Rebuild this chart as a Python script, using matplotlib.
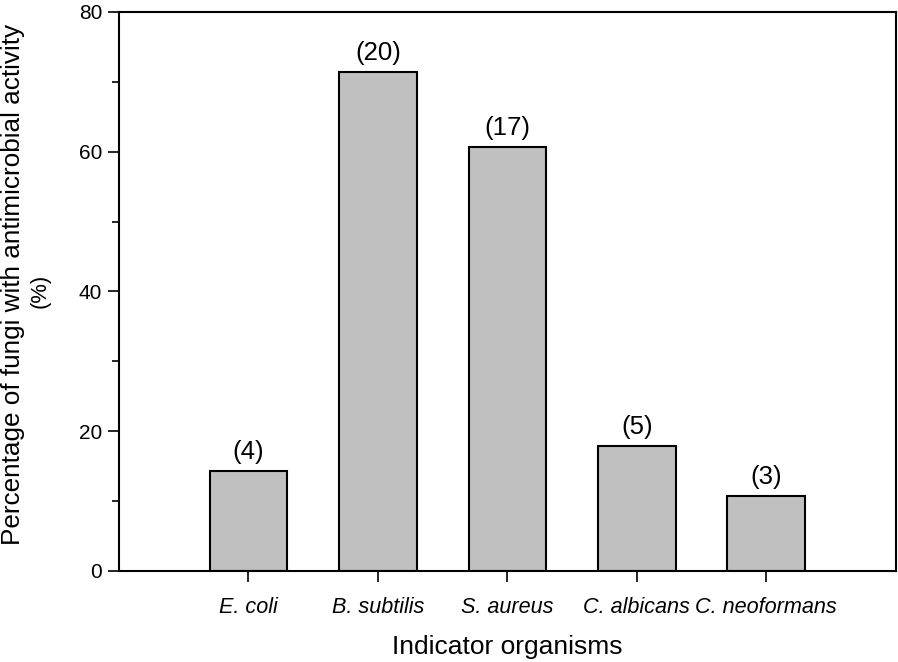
import matplotlib
matplotlib.use('Agg')
import matplotlib.pyplot as plt
from matplotlib.ticker import MultipleLocator

organisms = ['E. coli', 'B. subtilis', 'S. aureus', 'C. albicans', 'C. neoformans']
counts = [4, 20, 17, 5, 3]
percent = [14.29, 71.43, 60.71, 17.86, 10.71]

plt.rcParams['font.family'] = ['Liberation Sans', 'DejaVu Sans']

fig = plt.figure(figsize=(8.98, 6.62), dpi=100)
ax = fig.add_axes([0.1325, 0.1375, 0.865, 0.8445])

pos = list(range(1, len(organisms) + 1))
ax.bar(pos, percent, width=0.6, color='#c0c0c0', edgecolor='black', linewidth=1.5, zorder=2)

# counts above each bar
for x, y, n in zip(pos, percent, counts):
    ax.text(x, y + 1.0, '(' + str(n) + ')', ha='center', va='bottom', fontsize=18.5)

ax.set_xlim(0, 6)
ax.set_ylim(0, 80)
ax.set_xticks(pos)
ax.set_xticklabels(organisms, fontstyle='italic', fontsize=15.6)
ax.yaxis.set_major_locator(MultipleLocator(20))
ax.yaxis.set_minor_locator(MultipleLocator(10))
ax.tick_params(axis='y', which='major', direction='out', length=8, width=1.2, labelsize=15, pad=4)
ax.tick_params(axis='y', which='minor', direction='out', length=5, width=1.2)
ax.tick_params(axis='x', direction='out', length=8, width=1.2, pad=11)

for s in ax.spines.values():
    s.set_linewidth(1.5)

ax.set_xlabel('Indicator organisms', fontsize=19, labelpad=12)

# y label: second line is set smaller in the original
fig.text(0.0145, 0.571, 'Percentage of fungi with antimicrobial activity', rotation=90,
         ha='center', va='center', fontsize=18.8)
fig.text(0.0445, 0.5604, '(%)', rotation=90, ha='center', va='center', fontsize=15.8)

fig.savefig('out.png', dpi=100)
